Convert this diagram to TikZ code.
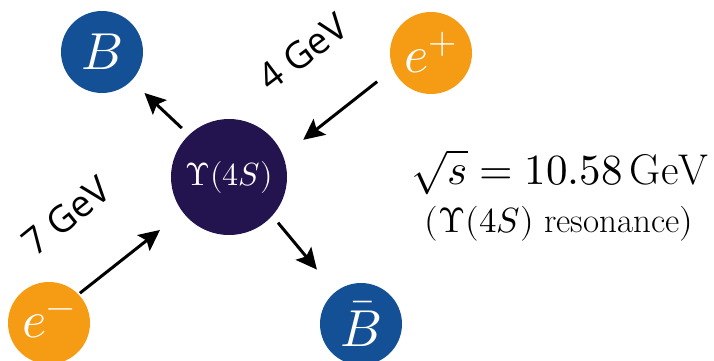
\documentclass[tikz,border=0pt]{standalone}
\usepackage{fontspec}
\usepackage{unicode-math}
\newfontfamily\handfont{Open Sans}
\usetikzlibrary{arrows.meta}
\definecolor{bblue}{HTML}{145096}
\definecolor{eorange}{HTML}{F59B14}
\definecolor{upsnavy}{HTML}{23144F}
\begin{document}
\begin{tikzpicture}[x=1pt,y=1pt,
  particle/.style={circle,inner sep=0pt,text=white},
  smallp/.style={particle,minimum size=82pt,font=\fontsize{52}{56}\selectfont},
  arr/.style={line width=3pt,-{Stealth[length=21pt,width=20pt,inset=4pt]}},
  hand/.style={font=\handfont\fontsize{37}{40}\selectfont}]
\useasboundingbox (0,0) rectangle (714,360);
\node[particle,fill=upsnavy,minimum size=116pt,font=\fontsize{32}{36}\selectfont] (U) at (229,183) {$\Upsilon(4S)$};
\node[smallp,fill=bblue] (B) at (102,308) {$B$};
\node[smallp,fill=bblue] (Bb) at (361,36) {$\bar{B}$};
\node[smallp,fill=eorange] (ep) at (431,307) {$e^{+}$};
\node[smallp,fill=eorange] (em) at (49,37) {$e^{-}$};
\draw[arr] ([shift={(134:68pt)}]U.center) -- ([shift={(-44:59pt)}]B.center);
\draw[arr] ([shift={(208:61pt)}]ep.center) -- ([shift={(26.6:83pt)}]U.center);
\draw[arr] ([shift={(44:43pt)}]em.center) -- ([shift={(217.5:87pt)}]U.center);
\draw[arr] ([shift={(-43:67pt)}]U.center) -- ([shift={(129:70pt)}]Bb.center);
\node[hand,rotate=37] (l4) at (303,308) {4 GeV};
\node[hand,rotate=39] (l7) at (66,144) {7 GeV};
\node[font=\fontsize{43}{46}\selectfont,anchor=base] (rs) at (560,176) {$\sqrt{s} = 10.58\,\mathrm{GeV}$};
\node[font=\fontsize{35}{38}\selectfont,anchor=base] (res) at (559,128) {$(\Upsilon(4S)$ resonance$)$};
\end{tikzpicture}
\end{document}
